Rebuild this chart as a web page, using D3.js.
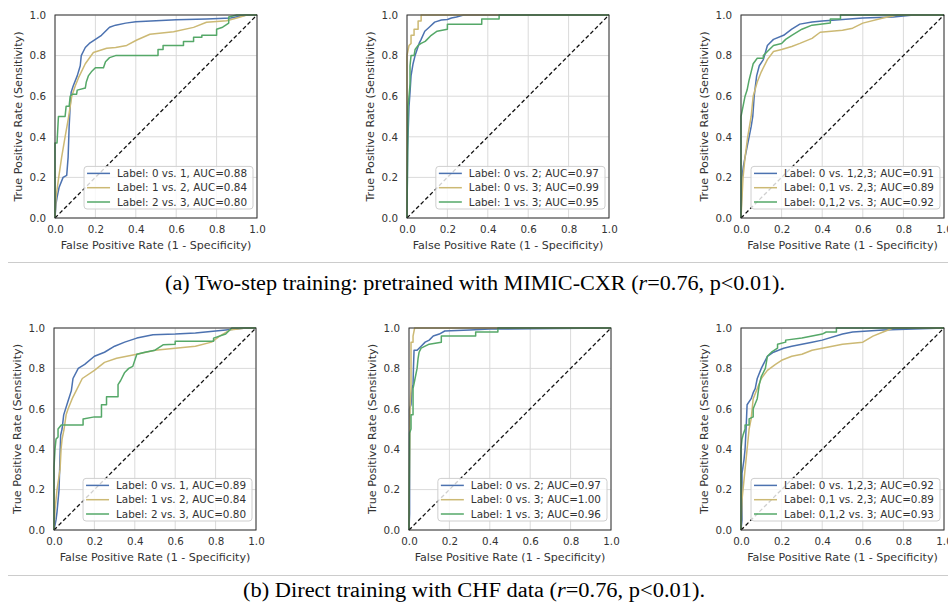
<!DOCTYPE html>
<html>
<head>
<meta charset="utf-8">
<script src="https://cdn.jsdelivr.net/npm/d3@7"></script>
<style>
  body { margin: 0; background: #fff; }
  svg { display: block; }
</style>
</head>
<body>
<svg id="chart" width="948" height="606"></svg>
<script>
// ROC points [fpr, tpr]

// (a) two-step training
const rocA1_01 = [[0,0],[0.005,0.07],[0.01,0.1],[0.02,0.15],[0.04,0.2],[0.058,0.21],[0.065,0.3],[0.07,0.45],[0.075,0.55],[0.08,0.62],[0.09,0.65],[0.11,0.7],[0.125,0.75],[0.13,0.8],[0.15,0.84],[0.17,0.86],[0.2,0.88],[0.23,0.9],[0.25,0.92],[0.27,0.94],[0.3,0.95],[0.35,0.96],[0.4,0.967],[0.5,0.972],[0.6,0.976],[0.75,0.98],[0.87,0.985],[0.92,0.995],[0.95,1],[1,1]];
const rocA1_12 = [[0,0],[0.005,0.1],[0.017,0.19],[0.033,0.3],[0.05,0.4],[0.066,0.49],[0.083,0.6],[0.1,0.65],[0.116,0.69],[0.15,0.76],[0.19,0.815],[0.256,0.836],[0.3,0.84],[0.355,0.85],[0.405,0.877],[0.47,0.905],[0.587,0.918],[0.686,0.939],[0.75,0.964],[0.85,0.972],[0.9,0.985],[0.95,1],[1,1]];
const rocA1_23 = [[0,0],[0,0.37],[0.01,0.37],[0.017,0.5],[0.05,0.5],[0.055,0.55],[0.07,0.55],[0.075,0.6],[0.085,0.61],[0.107,0.61],[0.11,0.63],[0.15,0.64],[0.155,0.67],[0.165,0.7],[0.18,0.72],[0.2,0.74],[0.24,0.74],[0.25,0.77],[0.27,0.79],[0.3,0.8],[0.51,0.8],[0.51,0.83],[0.535,0.83],[0.535,0.85],[0.636,0.85],[0.636,0.87],[0.686,0.87],[0.686,0.89],[0.727,0.89],[0.727,0.9],[0.8,0.9],[0.8,0.93],[0.83,0.94],[0.86,0.96],[0.86,0.99],[0.9,1],[1,1]];

const rocA2_02 = [[0,0],[0.003,0.33],[0.005,0.4],[0.01,0.55],[0.015,0.62],[0.02,0.7],[0.03,0.76],[0.04,0.8],[0.05,0.83],[0.06,0.86],[0.07,0.88],[0.088,0.92],[0.11,0.94],[0.137,0.965],[0.17,0.975],[0.2,0.978],[0.22,0.985],[0.245,0.99],[0.28,1],[1,1]];
const rocA2_03 = [[0,0],[0,0.8],[0.01,0.85],[0.02,0.86],[0.02,0.9],[0.035,0.9],[0.035,0.93],[0.055,0.93],[0.055,0.97],[0.07,0.97],[0.07,1],[1,1]];
const rocA2_13 = [[0,0],[0.005,0.55],[0.01,0.6],[0.015,0.66],[0.015,0.75],[0.02,0.8],[0.035,0.8],[0.04,0.83],[0.055,0.85],[0.07,0.86],[0.09,0.87],[0.1,0.88],[0.12,0.9],[0.149,0.92],[0.2,0.93],[0.2,0.955],[0.37,0.955],[0.37,0.98],[0.456,0.98],[0.456,1],[1,1]];

const rocA3_0v123 = [[0,0],[0.005,0.2],[0.011,0.25],[0.02,0.3],[0.03,0.35],[0.04,0.4],[0.05,0.45],[0.058,0.5],[0.065,0.6],[0.077,0.7],[0.09,0.75],[0.11,0.78],[0.13,0.85],[0.16,0.88],[0.21,0.9],[0.25,0.93],[0.29,0.955],[0.35,0.965],[0.4,0.97],[0.5,0.978],[0.6,0.985],[0.75,0.99],[0.85,1],[1,1]];
const rocA3_01v23 = [[0,0],[0.005,0.1],[0.01,0.2],[0.02,0.3],[0.033,0.4],[0.05,0.5],[0.06,0.6],[0.08,0.67],[0.1,0.72],[0.13,0.78],[0.16,0.82],[0.2,0.83],[0.25,0.845],[0.29,0.86],[0.35,0.885],[0.39,0.915],[0.5,0.925],[0.55,0.935],[0.6,0.96],[0.7,0.985],[0.77,1],[1,1]];
const rocA3_012v3 = [[0,0],[0,0.5],[0.01,0.55],[0.02,0.6],[0.03,0.63],[0.04,0.68],[0.05,0.72],[0.06,0.76],[0.08,0.787],[0.11,0.787],[0.11,0.8],[0.13,0.82],[0.16,0.85],[0.2,0.86],[0.22,0.88],[0.25,0.9],[0.3,0.93],[0.35,0.95],[0.44,0.96],[0.44,0.98],[0.49,0.98],[0.49,1],[1,1]];

// (b) direct training
const rocB1_01 = [[0,0],[0.01,0.05],[0.015,0.09],[0.025,0.2],[0.033,0.47],[0.04,0.5],[0.048,0.57],[0.07,0.64],[0.086,0.69],[0.094,0.75],[0.12,0.8],[0.152,0.82],[0.2,0.86],[0.25,0.88],[0.3,0.91],[0.35,0.93],[0.41,0.95],[0.49,0.967],[0.6,0.97],[0.7,0.975],[0.8,0.985],[0.85,0.99],[0.95,1],[1,1]];
const rocB1_12 = [[0,0],[0.005,0.1],[0.015,0.2],[0.03,0.3],[0.035,0.4],[0.04,0.45],[0.05,0.5],[0.06,0.57],[0.07,0.6],[0.09,0.65],[0.11,0.69],[0.14,0.75],[0.2,0.79],[0.25,0.83],[0.31,0.85],[0.41,0.87],[0.5,0.89],[0.6,0.9],[0.7,0.91],[0.78,0.93],[0.82,0.96],[0.87,0.99],[0.95,1],[1,1]];
const rocB1_23 = [[0,0],[0,0.31],[0.005,0.4],[0.01,0.45],[0.02,0.46],[0.02,0.5],[0.036,0.52],[0.144,0.52],[0.144,0.55],[0.2,0.56],[0.235,0.56],[0.235,0.62],[0.26,0.62],[0.26,0.66],[0.317,0.66],[0.317,0.72],[0.33,0.74],[0.35,0.78],[0.37,0.8],[0.39,0.81],[0.41,0.87],[0.45,0.88],[0.5,0.89],[0.54,0.917],[0.6,0.92],[0.6,0.934],[0.79,0.934],[0.79,0.95],[0.85,0.97],[0.87,0.99],[0.88,1],[1,1]];

const rocB2_02 = [[0,0],[0.003,0.08],[0.003,0.6],[0.01,0.62],[0.015,0.7],[0.02,0.72],[0.022,0.8],[0.025,0.89],[0.04,0.89],[0.05,0.9],[0.06,0.91],[0.08,0.93],[0.1,0.94],[0.12,0.96],[0.15,0.97],[0.177,0.985],[0.3,0.99],[0.4,0.995],[0.72,0.997],[1,1]];
const rocB2_03 = [[0,0],[0.005,0.6],[0.01,0.7],[0.01,0.93],[0.02,0.93],[0.02,0.96],[0.028,1],[1,1]];
const rocB2_13 = [[0,0],[0.003,0.48],[0.01,0.5],[0.01,0.57],[0.02,0.57],[0.02,0.7],[0.03,0.75],[0.04,0.8],[0.045,0.85],[0.05,0.88],[0.06,0.9],[0.08,0.91],[0.1,0.92],[0.16,0.93],[0.16,0.96],[0.33,0.96],[0.33,0.98],[0.44,0.98],[0.44,1],[1,1]];

const rocB3_0v123 = [[0,0],[0.005,0.05],[0.005,0.28],[0.015,0.35],[0.02,0.4],[0.025,0.5],[0.03,0.62],[0.05,0.65],[0.06,0.68],[0.07,0.7],[0.08,0.75],[0.1,0.8],[0.12,0.84],[0.13,0.86],[0.16,0.88],[0.21,0.9],[0.25,0.91],[0.3,0.92],[0.35,0.93],[0.4,0.94],[0.5,0.97],[0.55,0.98],[0.7,0.99],[0.85,0.995],[1,1]];
const rocB3_01v23 = [[0,0],[0.005,0.15],[0.01,0.2],[0.02,0.3],[0.03,0.4],[0.04,0.5],[0.05,0.55],[0.06,0.65],[0.08,0.7],[0.1,0.75],[0.13,0.79],[0.17,0.82],[0.2,0.84],[0.25,0.86],[0.3,0.87],[0.35,0.89],[0.4,0.9],[0.45,0.91],[0.5,0.92],[0.6,0.93],[0.65,0.96],[0.7,0.98],[0.75,1],[1,1]];
const rocB3_012v3 = [[0,0],[0,0.4],[0.005,0.45],[0.01,0.47],[0.02,0.5],[0.02,0.52],[0.04,0.52],[0.04,0.55],[0.06,0.56],[0.06,0.6],[0.08,0.65],[0.09,0.72],[0.1,0.76],[0.12,0.8],[0.13,0.86],[0.15,0.88],[0.18,0.9],[0.18,0.92],[0.22,0.93],[0.22,0.94],[0.3,0.95],[0.35,0.96],[0.4,0.97],[0.42,0.98],[0.47,0.98],[0.47,1],[1,1]];

// legend labels
const labelsA1 = ["Label: 0 vs. 1, AUC=0.88", "Label: 1 vs. 2, AUC=0.84", "Label: 2 vs. 3, AUC=0.80"];
const labelsA2 = ["Label: 0 vs. 2; AUC=0.97", "Label: 0 vs. 3; AUC=0.99", "Label: 1 vs. 3; AUC=0.95"];
const labelsA3 = ["Label: 0 vs. 1,2,3; AUC=0.91", "Label: 0,1 vs. 2,3; AUC=0.89", "Label: 0,1,2 vs. 3; AUC=0.92"];
const labelsB1 = ["Label: 0 vs. 1, AUC=0.89", "Label: 1 vs. 2, AUC=0.84", "Label: 2 vs. 3, AUC=0.80"];
const labelsB2 = ["Label: 0 vs. 2; AUC=0.97", "Label: 0 vs. 3; AUC=1.00", "Label: 1 vs. 3; AUC=0.96"];
const labelsB3 = ["Label: 0 vs. 1,2,3; AUC=0.92", "Label: 0,1 vs. 2,3; AUC=0.89", "Label: 0,1,2 vs. 3; AUC=0.93"];

const tickValues = [0, 0.2, 0.4, 0.6, 0.8, 1.0];
const xTitle = "False Positive Rate (1 - Specificity)";
const yTitle = "True Positive Rate (Sensitivity)";
const captionA = ["(a) Two-step training: pretrained with MIMIC-CXR (", "r", "=0.76, p<0.01)."];
const captionB = ["(b) Direct training with CHF data (", "r", "=0.76, p<0.01)."];

// seaborn "b", "y", "g"
const colors = ["#4C72B0", "#CCB974", "#55A868"];

// where each subplot sits (plot area box)
const panels = [
  { x0: 55,  x1: 257, y0: 15,  y1: 218, curves: [rocA1_01, rocA1_12, rocA1_23], labels: labelsA1 },
  { x0: 407, x1: 609, y0: 15,  y1: 218, curves: [rocA2_02, rocA2_03, rocA2_13], labels: labelsA2 },
  { x0: 741, x1: 944, y0: 15,  y1: 218, curves: [rocA3_0v123, rocA3_01v23, rocA3_012v3], labels: labelsA3 },
  { x0: 54,  x1: 256, y0: 328, y1: 530, curves: [rocB1_01, rocB1_12, rocB1_23], labels: labelsB1 },
  { x0: 409, x1: 611, y0: 328, y1: 530, curves: [rocB2_02, rocB2_03, rocB2_13], labels: labelsB2 },
  { x0: 741, x1: 944, y0: 328, y1: 530, curves: [rocB3_0v123, rocB3_01v23, rocB3_012v3], labels: labelsB3 }
];

const svg = d3.select("#chart");
const textColor = "#333";
const font = "DejaVu Sans, sans-serif";

function drawPanel(p) {
  const x = d3.scaleLinear().domain([0, 1]).range([p.x0, p.x1]);
  const y = d3.scaleLinear().domain([0, 1]).range([p.y1, p.y0]);
  const g = svg.append("g");

  // grid
  g.append("g").selectAll("line").data(tickValues).join("line")
    .attr("x1", d => x(d)).attr("x2", d => x(d))
    .attr("y1", p.y0).attr("y2", p.y1)
    .attr("stroke", "#dadada").attr("stroke-width", 1);
  g.append("g").selectAll("line").data(tickValues).join("line")
    .attr("y1", d => y(d)).attr("y2", d => y(d))
    .attr("x1", p.x0).attr("x2", p.x1)
    .attr("stroke", "#dadada").attr("stroke-width", 1);

  // axes (no tick marks, only labels)
  const xAxis = g.append("g").attr("transform", `translate(0,${p.y1})`)
    .call(d3.axisBottom(x).tickValues(tickValues).tickFormat(d3.format(".1f")).tickSize(0).tickPadding(8));
  const yAxis = g.append("g").attr("transform", `translate(${p.x0},0)`)
    .call(d3.axisLeft(y).tickValues(tickValues).tickFormat(d3.format(".1f")).tickSize(0).tickPadding(9));
  [xAxis, yAxis].forEach(a => {
    a.select(".domain").remove();
    a.selectAll("text").attr("fill", textColor).style("font-family", font).style("font-size", "10.3px");
  });

  // curves
  const line = d3.line().x(d => x(d[0])).y(d => y(d[1]));
  p.curves.forEach((c, i) => {
    g.append("path").datum(c)
      .attr("d", line)
      .attr("fill", "none")
      .attr("stroke", colors[i])
      .attr("stroke-width", 1.5)
      .attr("stroke-linejoin", "round");
  });

  // chance line
  g.append("path").datum([[0, 0], [1, 1]])
    .attr("d", line)
    .attr("fill", "none")
    .attr("stroke", "#111")
    .attr("stroke-width", 1.3)
    .attr("stroke-dasharray", "4,2.5");

  // frame
  g.append("rect")
    .attr("x", p.x0).attr("y", p.y0)
    .attr("width", p.x1 - p.x0).attr("height", p.y1 - p.y0)
    .attr("fill", "none").attr("stroke", "#333").attr("stroke-width", 1);

  // axis titles
  g.append("text")
    .attr("x", (p.x0 + p.x1) / 2).attr("y", p.y1 + 31)
    .attr("text-anchor", "middle")
    .attr("fill", textColor).style("font-family", font).style("font-size", "11.1px")
    .text(xTitle);
  g.append("text")
    .attr("transform", `translate(${p.x0 - 33},${(p.y0 + p.y1) / 2}) rotate(-90)`)
    .attr("text-anchor", "middle")
    .attr("fill", textColor).style("font-family", font).style("font-size", "11.2px")
    .text(yTitle);

  // legend, lower right
  const rowH = 14.3;
  const leg = g.append("g");
  const box = leg.append("rect");
  const texts = leg.selectAll("text").data(p.labels).join("text")
    .attr("fill", textColor).style("font-family", font).style("font-size", "10.4px")
    .attr("dy", "0.35em")
    .text(d => d);
  let w = 0;
  texts.each(function () { w = Math.max(w, this.getComputedTextLength()); });
  const boxW = 33 + w + 6;
  const boxH = 7 + rowH * (p.labels.length - 1) + 7;
  const bx = p.x1 - 4 - boxW;
  const by = p.y1 - 9 - boxH;
  box.attr("x", bx).attr("y", by).attr("width", boxW).attr("height", boxH)
    .attr("rx", 3).attr("fill", "#fff").attr("fill-opacity", 0.8)
    .attr("stroke", "#cfcfcf").attr("stroke-width", 1);
  texts.attr("x", bx + 33).attr("y", (d, i) => by + 7 + i * rowH);
  leg.selectAll("line").data(p.labels).join("line")
    .attr("x1", bx + 3).attr("x2", bx + 26)
    .attr("y1", (d, i) => by + 7 + i * rowH).attr("y2", (d, i) => by + 7 + i * rowH)
    .attr("stroke", (d, i) => colors[i]).attr("stroke-width", 1.5);
}

panels.forEach(drawPanel);

// separators and captions (the caption in the figure is a bit stretched wide)
function caption(parts, yLine, yText, cx, width) {
  svg.append("line")
    .attr("x1", 8).attr("x2", 948).attr("y1", yLine).attr("y2", yLine)
    .attr("stroke", "#cccccc").attr("stroke-width", 1);
  const t = svg.append("text")
    .attr("x", cx - width / 2).attr("y", yText)
    .attr("textLength", width)
    .attr("lengthAdjust", "spacingAndGlyphs")
    .attr("fill", "#000")
    .style("font-family", "Liberation Serif, Times New Roman, serif")
    .style("font-size", "20px");
  parts.forEach((s, i) => {
    t.append("tspan").text(s).style("font-style", i === 1 ? "italic" : "normal");
  });
}

caption(captionA, 262.5, 290, 475, 620);
caption(captionB, 575.5, 597, 474, 462);
</script>
</body>
</html>
